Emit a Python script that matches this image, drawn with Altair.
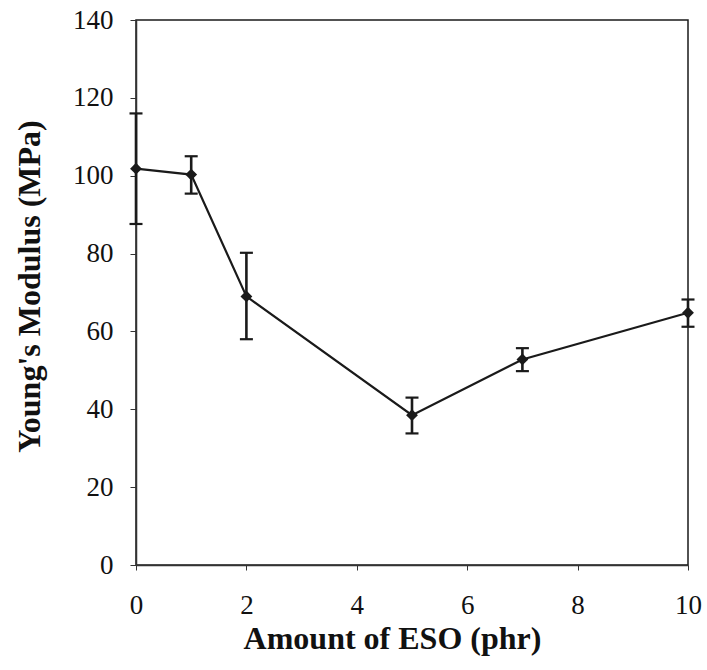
import altair as alt
import pandas as pd

eso = [0, 1, 2, 5, 7, 10]
modulus = [101.8, 100.3, 69.0, 38.5, 52.8, 64.8]
err_low = [87.6, 95.4, 58.0, 33.8, 49.8, 61.2]
err_high = [116.0, 105.0, 80.2, 43.0, 55.7, 68.2]

df = pd.DataFrame({"x": eso, "y": modulus, "lo": err_low, "hi": err_high})

FONT = "Liberation Serif"
INK = "#1a1a1a"
xs = alt.Scale(domain=[0, 10], nice=False, zero=False)
ys = alt.Scale(domain=[0, 140], nice=False)

xaxis = alt.Axis(
    title="Amount of ESO (phr)", values=[0, 2, 4, 6, 8, 10], grid=False,
    labelFont=FONT, labelFontSize=27, labelColor="#111", labelPadding=22,
    titleFont=FONT, titleFontSize=32, titleFontWeight="bold", titleColor="#111",
    titlePadding=5, titleX=256, tickSize=5, tickColor="#333", domainColor="#333",
    domainWidth=1.5, labelFlush=False,
)
yaxis = alt.Axis(
    title="Young's Modulus (MPa)", values=list(range(0, 141, 20)), grid=False,
    labelFont=FONT, labelFontSize=27, labelColor="#111", labelPadding=17,
    titleFont=FONT, titleFontSize=32, titleFontWeight="bold", titleColor="#111",
    titlePadding=26, titleY=266, tickSize=6, tickColor="#333", domainColor="#333",
    domainWidth=1.5,
)

base = alt.Chart(df)

line = base.mark_line(color=INK, strokeWidth=2.2).encode(
    x=alt.X("x:Q", scale=xs, axis=xaxis),
    y=alt.Y("y:Q", scale=ys, axis=yaxis),
)
pts = base.mark_point(shape="diamond", filled=True, color=INK, size=140, opacity=1).encode(
    x=alt.X("x:Q", scale=xs),
    y=alt.Y("y:Q", scale=ys),
)
bars = base.mark_rule(color=INK, strokeWidth=2.6).encode(
    x=alt.X("x:Q", scale=xs),
    y=alt.Y("lo:Q", scale=ys),
    y2="hi:Q",
)
cap_hi = base.mark_rule(color=INK, strokeWidth=2.2, xOffset=-6.5, x2Offset=6.5).encode(
    x=alt.X("x:Q", scale=xs),
    x2="x:Q",
    y=alt.Y("hi:Q", scale=ys),
)
cap_lo = base.mark_rule(color=INK, strokeWidth=2.2, xOffset=-6.5, x2Offset=6.5).encode(
    x=alt.X("x:Q", scale=xs),
    x2="x:Q",
    y=alt.Y("lo:Q", scale=ys),
)

chart = (
    alt.layer(line, bars, cap_hi, cap_lo, pts)
    .properties(
        width=552, height=545,
        autosize=alt.AutoSizeParams(type="none"),
        padding={"left": 136, "top": 20, "right": 19, "bottom": 105},
        background="white",
    )
    .configure_view(stroke=INK, strokeWidth=1.5)
)

chart.save("out.html", embed_options={"renderer": "svg", "actions": False})
